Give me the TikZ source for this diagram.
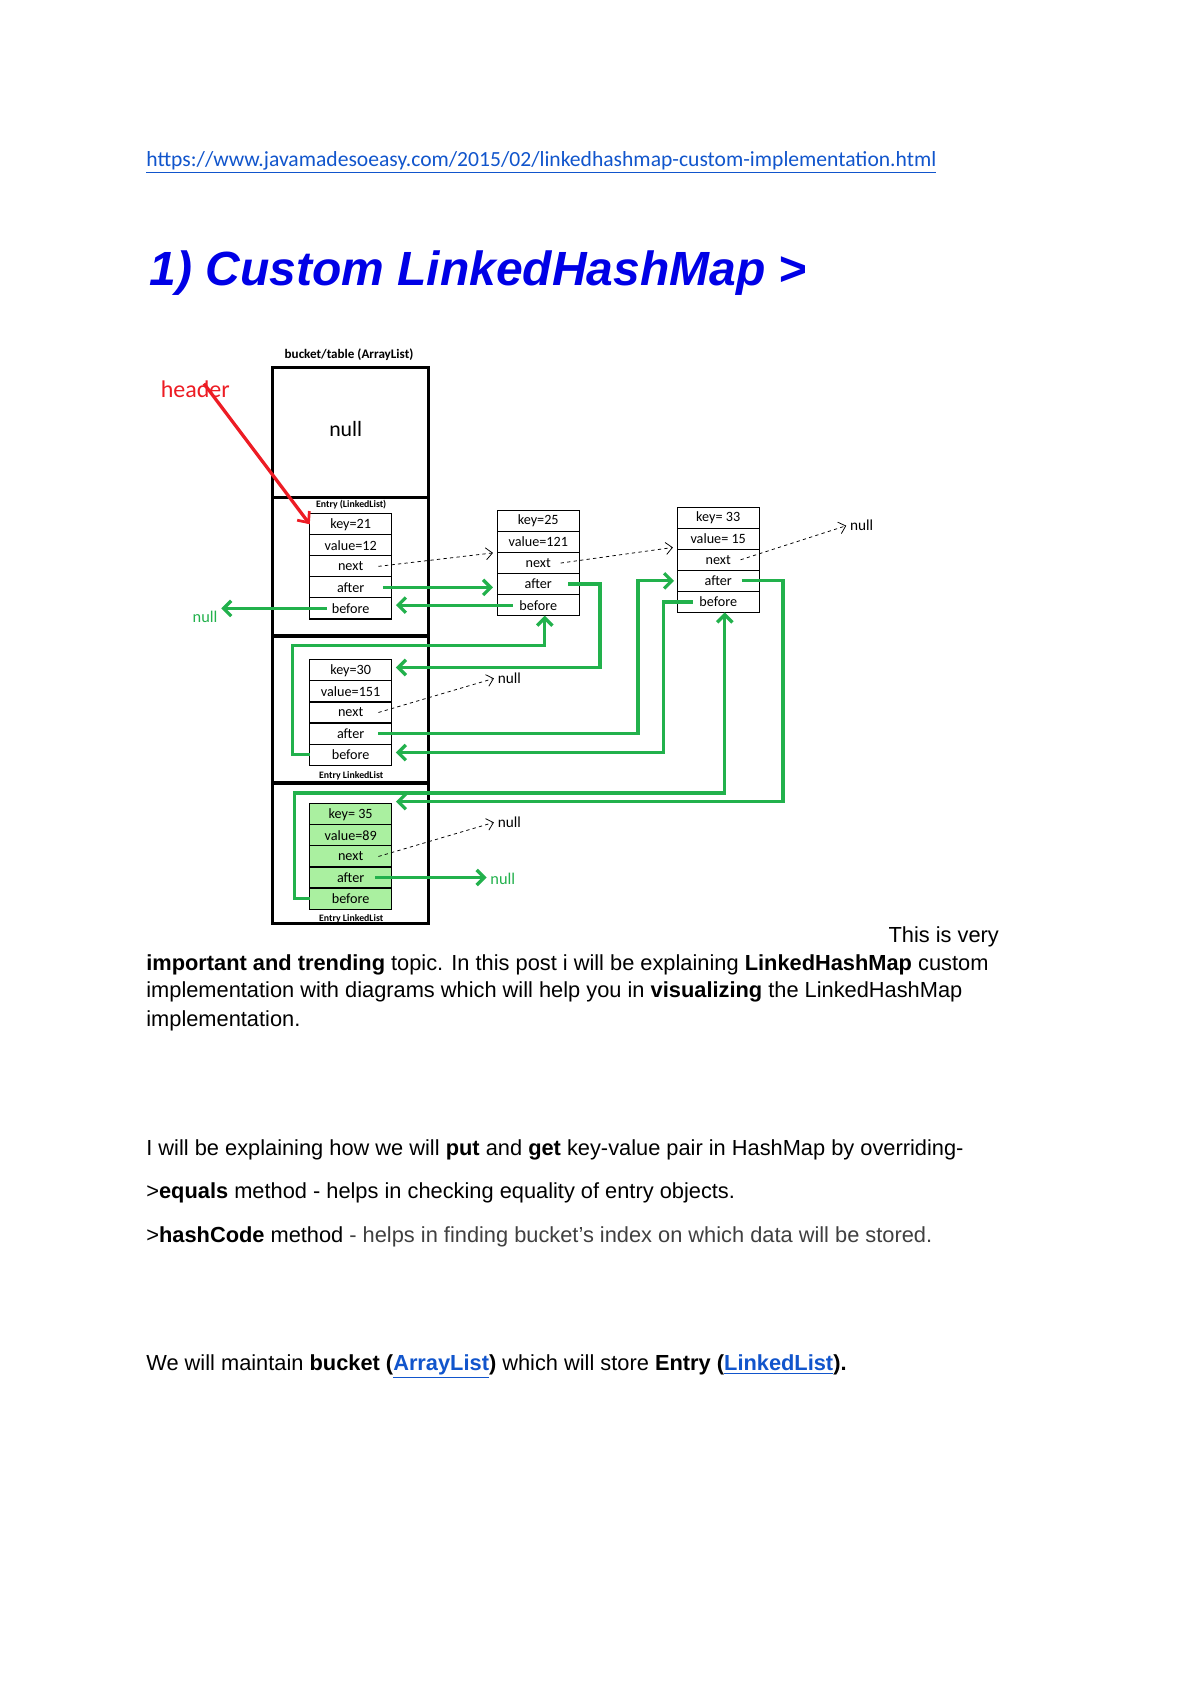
\documentclass[tikz,border=0pt]{standalone}
\usepackage{fontspec}
\setmainfont{Liberation Sans}
\newfontfamily\calfont{Carlito}
\usetikzlibrary{arrows.meta}
\definecolor{gr}{RGB}{34,177,76}
\definecolor{rd}{RGB}{237,28,36}
\definecolor{lb}{RGB}{17,85,204}
\definecolor{tt}{RGB}{0,0,230}
\definecolor{lg}{RGB}{170,240,160}
\tikzset{
 row/.style={draw,line width=1pt,minimum width=75pt,minimum height=19.3pt,anchor=north west,inner sep=0pt,outer sep=0pt,font=\calfont\fontsize{13}{13}\selectfont},
 garr/.style={draw=gr,line width=3pt,-{Straight Barb[length=7pt,width=14pt,line width=3pt]}},
 narr/.style={draw,line width=0.7pt,dashed,-{Straight Barb[length=6pt,width=11pt]}},
 small/.style={font=\calfont\bfseries\fontsize{9}{9}\selectfont,inner sep=0pt},
 body/.style={anchor=base west,inner sep=0pt,font=\fontsize{20}{20}\selectfont},
}
\newcommand\entrybox[8]{%
 \node[row] (#1k) at (#2,#3) {#4};
 \node[row] (#1v) at (#1k.south west) {#5};
 \node[row] (#1n) at (#1v.south west) {#6};
 \node[row] (#1a) at (#1n.south west) {#7};
 \node[row] (#1b) at (#1a.south west) {#8};}
\begin{document}
\begin{tikzpicture}[x=1pt,y=-1pt]
\useasboundingbox[fill=white] (0,0) rectangle (1100,1555);
\node[anchor=base west,inner sep=0pt,text=lb,font=\calfont\fontsize{19.8}{20}\selectfont] (url) at (134,153) {\underline{https://www.javamadesoeasy.com/2015/02/linkedhashmap-custom-implementation.html}};
\node[anchor=base west,inner sep=0pt,text=tt,font=\bfseries\itshape\fontsize{44}{44}\selectfont] (title) at (137,262) {1) Custom LinkedHashMap >};
% bucket
\node[small,font=\calfont\bfseries\fontsize{12}{12}\selectfont] (btitle) at (320,325) {bucket/table (ArrayList)};
\draw[line width=3pt] (250,337) rectangle (393,847);
\draw[line width=3pt] (250,456) -- (393,456) (250,583) -- (393,583) (250,718) -- (393,718);
\node[font=\calfont\fontsize{20}{20}\selectfont] (bnull) at (317,393) {null};
\node[text=rd,font=\calfont\fontsize{22}{22}\selectfont] (hdr) at (179,357) {header};
\node[small] (l1) at (322,463) {Entry (LinkedList)};
\node[small] (l2) at (322,711) {Entry LinkedList};
\node[small] (l3) at (322,842) {Entry LinkedList};
\entrybox{a}{284}{471}{key=21}{value=12}{next}{after}{before}
\entrybox{b}{456}{468}{key=25}{value=121}{next}{after}{before}
\entrybox{c}{621}{465}{key= 33}{value= 15}{next}{after}{before}
\entrybox{d}{284}{605}{key=30}{value=151}{next}{after}{before}
\begin{scope}[every node/.append style={fill=lg}]
\entrybox{e}{284}{737}{key= 35}{value=89}{next}{after}{before}
\end{scope}
\draw[rd,line width=3pt,-{Straight Barb[length=8pt,width=14pt,line width=2.5pt]}] (hdr.north) ++(8,6) -- (ak.west);
% null nodes
\node[font=\calfont\fontsize{14}{14}\selectfont] (n3) at (790,482) {null};
\node[font=\calfont\fontsize{14}{14}\selectfont] (n4) at (467,622) {null};
\node[font=\calfont\fontsize{14}{14}\selectfont] (n5) at (467,754) {null};
\node[text=gr,font=\calfont\fontsize{15}{15}\selectfont] (gn1) at (188,566) {null};
\node[text=gr,font=\calfont\fontsize{15}{15}\selectfont] (gn2) at (461,806) {null};
% next arrows
\draw[narr] ([xshift=-12]an.east) -- ([xshift=-4,yshift=-10]bv.west);
\draw[narr] ([xshift=-17]bn.east) -- ([xshift=-4,yshift=-8]cv.west);
\draw[narr] ([xshift=-17]cn.east) -- (n3.west);
\draw[narr] ([xshift=-12]dn.east) -- (n4.west);
\draw[narr] ([xshift=-12]en.east) -- (n5.west);
% green links
\draw[garr] ([xshift=-8]aa.east) -- ([xshift=-4]ba.west |- aa.east);
\draw[garr] ([xshift=14]bb.west) -- ([xshift=4]ab.east |- bb.west);
\draw[garr] ([xshift=16]ab.west) -- (gn1.east |- ab.west);
\coordinate (k1) at (550,612);
\draw[garr] ([xshift=-10]ba.east) -| (k1) -- ([xshift=4]dk.east |- k1);
\coordinate (k2) at (268,592);
\draw[garr] (db.west) -| (k2) -| ([xshift=6]bb.south);
\coordinate (k3) at (585,540);
\draw[garr] ([xshift=-12]da.east) -| (k3 |- ca.west) -- ([xshift=-3]ca.west);
\coordinate (k4) at (608,690);
\draw[garr] ([xshift=14]cb.west) -| (k4) -- ([xshift=4]db.east |- k4);
\coordinate (k5) at (718,735);
\draw[garr] ([xshift=-16]ca.east) -| (k5) -- ([xshift=4]ek.east |- k5);
\coordinate (k6) at (270,727);
\draw[garr] (eb.west) -| (k6) -| ([xshift=6]cb.south);
\draw[garr] ([xshift=-15]ea.east) -- (gn2.west |- ea.east);
% body text
\node[body,anchor=base east] (p1) at (916,864) {This is very};
\node[body] (p2) at (134,890) {\textbf{important and trending} topic. In this post i will be explaining \textbf{LinkedHashMap} custom};
\node[body] (p3) at (134,915) {implementation with diagrams which will help you in \textbf{visualizing} the LinkedHashMap};
\node[body] (p4) at (134,941) {implementation.};
\node[body] (q1) at (134,1059) {I will be explaining how we will \textbf{put} and \textbf{get} key-value pair in HashMap by overriding-};
\node[body] (q2) at (134,1099) {>\textbf{equals} method - helps in checking equality of entry objects.};
\node[body] (q3) at (134,1139) {>\textbf{hashCode} method \textcolor{black!75}{- helps in finding bucket's index on which data will be stored.}};
\node[body] (q4) at (134,1257) {We will maintain \textbf{bucket (\textcolor{lb}{\underline{ArrayList}})} which will store \textbf{Entry (\textcolor{lb}{\underline{LinkedList}}).}};
\end{tikzpicture}
\end{document}
